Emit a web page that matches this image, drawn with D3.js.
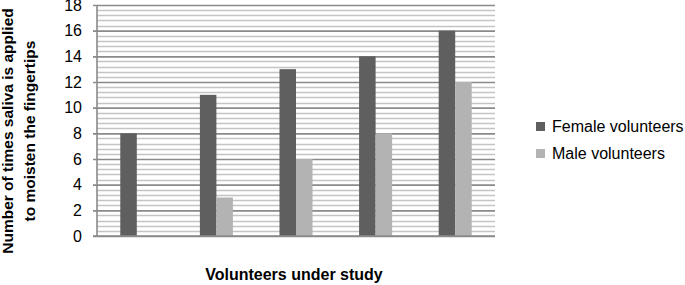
<!DOCTYPE html>
<html>
<head>
<meta charset="utf-8">
<script src="https://cdn.jsdelivr.net/npm/d3@7"></script>
<style>
  body { margin: 0; background: #fff; }
  svg { display: block; font-family: "Liberation Sans", Arial, sans-serif; }
</style>
</head>
<body>
<div id="chart"></div>
<script>
// data
var groups = ["1", "2", "3", "4", "5"];
var seriesNames = ["Female volunteers", "Male volunteers"];
var femaleValues = [8, 11, 13, 14, 16];
var maleValues = [0, 3, 6, 8, 12];
var yTicks = [0, 2, 4, 6, 8, 10, 12, 14, 16, 18];

var colors = ["#5f5f5f", "#b3b3b3"];

var w = 685;
var h = 285;
var plotLeft = 97, plotRight = 495, plotTop = 5, plotBottom = 236;

var rows = groups.map(function(g, i) {
  return { group: g, values: [femaleValues[i], maleValues[i]] };
});

var svg = d3.select('#chart')
  .append('svg')
    .attr('width', w)
    .attr('height', h);

var x0 = d3.scaleBand()
  .domain(groups)
  .range([plotLeft, plotRight])
  .paddingInner(0.585)
  .paddingOuter(0.2925);

var x1 = d3.scaleBand()
  .domain([0, 1])
  .range([0, x0.bandwidth()]);

var y = d3.scaleLinear()
  .domain([0, 18])
  .range([plotBottom, plotTop]);

// minor gridlines every 0.4
var minor = d3.range(0, 18.001, 0.4).filter(function(v) {
  return Math.abs(v / 2 - Math.round(v / 2)) > 0.01;
});
svg.append('g')
  .selectAll('line')
  .data(minor)
  .enter()
  .append('line')
    .attr('x1', plotLeft)
    .attr('x2', plotRight)
    .attr('y1', function(d) { return Math.round(y(d)) + 0.5; })
    .attr('y2', function(d) { return Math.round(y(d)) + 0.5; })
    .attr('stroke', '#c4c4c4')
    .attr('stroke-width', 1.5);

// y axis with major gridlines
var yAxis = svg.append('g')
  .attr('transform', 'translate(' + plotLeft + ',0)')
  .call(d3.axisLeft(y).tickValues(yTicks).tickSize(-(plotRight - plotLeft)).tickPadding(15));
yAxis.select('.domain').remove();
yAxis.selectAll('.tick line')
  .attr('x1', -4)
  .attr('stroke', '#8a8a8a')
  .attr('stroke-width', 1.6);
yAxis.selectAll('.tick text')
  .attr('font-size', 16)
  .attr('fill', '#000')
  .attr('font-family', '"Liberation Sans", Arial, sans-serif');

// left axis line
svg.append('line')
  .attr('x1', plotLeft).attr('x2', plotLeft)
  .attr('y1', plotTop).attr('y2', plotBottom)
  .attr('stroke', '#8a8a8a')
  .attr('stroke-width', 1.6);

// bars
var grp = svg.selectAll('.grp')
  .data(rows)
  .enter()
  .append('g')
    .attr('class', 'grp')
    .attr('transform', function(d) { return 'translate(' + x0(d.group) + ',0)'; });

grp.selectAll('rect')
  .data(function(d) { return d.values.map(function(v, i) { return { i: i, v: v }; }); })
  .enter()
  .append('rect')
    .attr('x', function(d) { return x1(d.i); })
    .attr('width', x1.bandwidth())
    .attr('y', function(d) { return y(d.v); })
    .attr('height', function(d) { return y(0) - y(d.v); })
    .attr('fill', function(d) { return colors[d.i]; });

// bottom axis line
svg.append('line')
  .attr('x1', plotLeft - 4).attr('x2', plotRight)
  .attr('y1', plotBottom).attr('y2', plotBottom)
  .attr('stroke', '#8a8a8a')
  .attr('stroke-width', 1.6);

// axis titles
var yTitle = svg.append('text')
  .attr('transform', 'translate(0,131) rotate(-90)')
  .attr('text-anchor', 'middle')
  .attr('font-weight', 'bold')
  .attr('font-size', 15.5);
yTitle.append('tspan').attr('x', 0).attr('y', 13).text('Number of times saliva is applied');
yTitle.append('tspan').attr('x', 0).attr('y', 35).text('to moisten the fingertips');

svg.append('text')
  .attr('x', 294)
  .attr('y', 280)
  .attr('text-anchor', 'middle')
  .attr('font-weight', 'bold')
  .attr('font-size', 16)
  .text('Volunteers under study');

// legend
var legend = svg.selectAll('.legend')
  .data(seriesNames)
  .enter()
  .append('g')
    .attr('class', 'legend')
    .attr('transform', function(d, i) { return 'translate(536,' + (122 + i * 27) + ')'; });

legend.append('rect')
  .attr('width', 9)
  .attr('height', 9)
  .attr('fill', function(d, i) { return colors[i]; });

legend.append('text')
  .attr('x', 16)
  .attr('y', 10)
  .attr('font-size', 16)
  .text(function(d) { return d; });
</script>
</body>
</html>
